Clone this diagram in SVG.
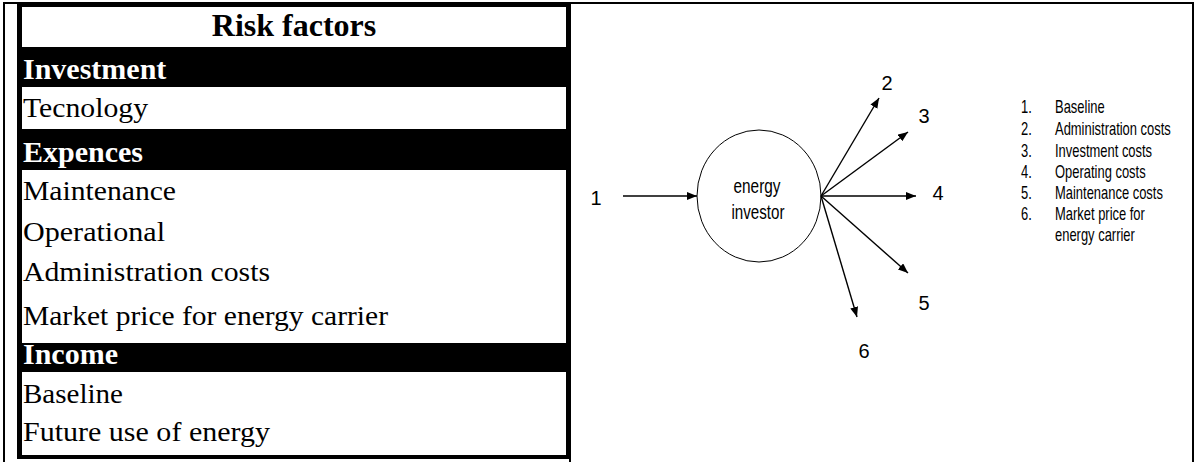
<svg xmlns="http://www.w3.org/2000/svg" width="1194" height="462" viewBox="0 0 1194 462">
  <style>
    .serif { font-family: "Liberation Serif", "Times New Roman", serif; fill: #000; }
    .head { font-weight: bold; font-size: 30px; fill: #fff; }
    .row { font-size: 27px; }
    .sans { font-family: "Liberation Sans", Arial, sans-serif; fill: #000; }
    .num { font-size: 20px; text-anchor: middle; }
    .legend { font-size: 17.5px; }
    .edge { stroke: #000; stroke-width: 1.4; fill: none; marker-end: url(#arrow); }
  </style>
  <defs>
    <marker id="arrow" markerUnits="userSpaceOnUse" markerWidth="11" markerHeight="9" refX="10" refY="4" orient="auto">
      <path d="M0,0 L10,4 L0,8 z" fill="#000"/>
    </marker>
  </defs>

  <rect width="1194" height="462" fill="#fff"/>

  <!-- page frame -->
  <g id="frame">
    <rect x="3" y="2" width="2" height="460" fill="#000"/>
    <rect x="3" y="2" width="1191" height="2" fill="#000"/>
    <rect x="1192" y="2" width="2" height="460" fill="#000"/>
    <rect x="569" y="455" width="2" height="7" fill="#000"/>
  </g>

  <!-- risk factor table -->
  <g id="table">
    <rect x="17" y="2" width="554" height="457" fill="#000"/>
    <rect x="22" y="7" width="544" height="40" fill="#fff"/>
    <rect x="22" y="87" width="544" height="42" fill="#fff"/>
    <rect x="22" y="170" width="544" height="173" fill="#fff"/>
    <rect x="22" y="372" width="544" height="83" fill="#fff"/>

    <text class="serif" x="294" y="36" font-size="32" font-weight="bold" text-anchor="middle">Risk factors</text>
    <text class="serif head" x="23" y="79">Investment</text>
    <text class="serif row" x="23" y="117" textLength="125" lengthAdjust="spacingAndGlyphs">Tecnology</text>
    <text class="serif head" x="23" y="162">Expences</text>
    <text class="serif row" x="23" y="200" textLength="153" lengthAdjust="spacingAndGlyphs">Maintenance</text>
    <text class="serif row" x="23" y="241" textLength="142" lengthAdjust="spacingAndGlyphs">Operational</text>
    <text class="serif row" x="23" y="281" textLength="247" lengthAdjust="spacingAndGlyphs">Administration costs</text>
    <text class="serif row" x="23" y="325" textLength="365" lengthAdjust="spacingAndGlyphs">Market price for energy carrier</text>
    <text class="serif head" x="23" y="364">Income</text>
    <text class="serif row" x="23" y="403" textLength="100" lengthAdjust="spacingAndGlyphs">Baseline</text>
    <text class="serif row" x="23" y="441" textLength="247" lengthAdjust="spacingAndGlyphs">Future use of energy</text>
  </g>

  <!-- central node -->
  <g id="investor">
    <ellipse cx="759" cy="196" rx="62" ry="66" fill="#fff" stroke="#000" stroke-width="1"/>
    <text class="sans" x="757" y="193" font-size="20" text-anchor="middle" textLength="47" lengthAdjust="spacingAndGlyphs">energy</text>
    <text class="sans" x="758" y="219" font-size="20" text-anchor="middle" textLength="53" lengthAdjust="spacingAndGlyphs">investor</text>
  </g>

  <!-- flow connectors -->
  <g id="connectors">
    <line class="edge" x1="623" y1="196" x2="697" y2="196"/>
    <line class="edge" x1="821" y1="196" x2="879" y2="98"/>
    <line class="edge" x1="821" y1="196" x2="908" y2="132"/>
    <line class="edge" x1="821" y1="196" x2="916" y2="196"/>
    <line class="edge" x1="821" y1="196" x2="908" y2="273"/>
    <line class="edge" x1="821" y1="196" x2="857" y2="317"/>
  </g>

  <!-- flow numbers -->
  <g id="flow-labels">
    <text class="sans num" x="596" y="205">1</text>
    <text class="sans num" x="887" y="90">2</text>
    <text class="sans num" x="924" y="123">3</text>
    <text class="sans num" x="938" y="200">4</text>
    <text class="sans num" x="924" y="310">5</text>
    <text class="sans num" x="864" y="358">6</text>
  </g>

  <!-- key to flow numbers, set in a narrowed face -->
  <g id="legend" transform="translate(1021,0) scale(0.74,1)">
    <text class="sans legend" x="0" y="113">1.</text>
    <text class="sans legend" x="46" y="113">Baseline</text>
    <text class="sans legend" x="0" y="135">2.</text>
    <text class="sans legend" x="46" y="135">Administration costs</text>
    <text class="sans legend" x="0" y="157">3.</text>
    <text class="sans legend" x="46" y="157">Investment costs</text>
    <text class="sans legend" x="0" y="178">4.</text>
    <text class="sans legend" x="46" y="178">Operating costs</text>
    <text class="sans legend" x="0" y="199">5.</text>
    <text class="sans legend" x="46" y="199">Maintenance costs</text>
    <text class="sans legend" x="0" y="220">6.</text>
    <text class="sans legend" x="46" y="220">Market price for</text>
    <text class="sans legend" x="46" y="241">energy carrier</text>
  </g>
</svg>
